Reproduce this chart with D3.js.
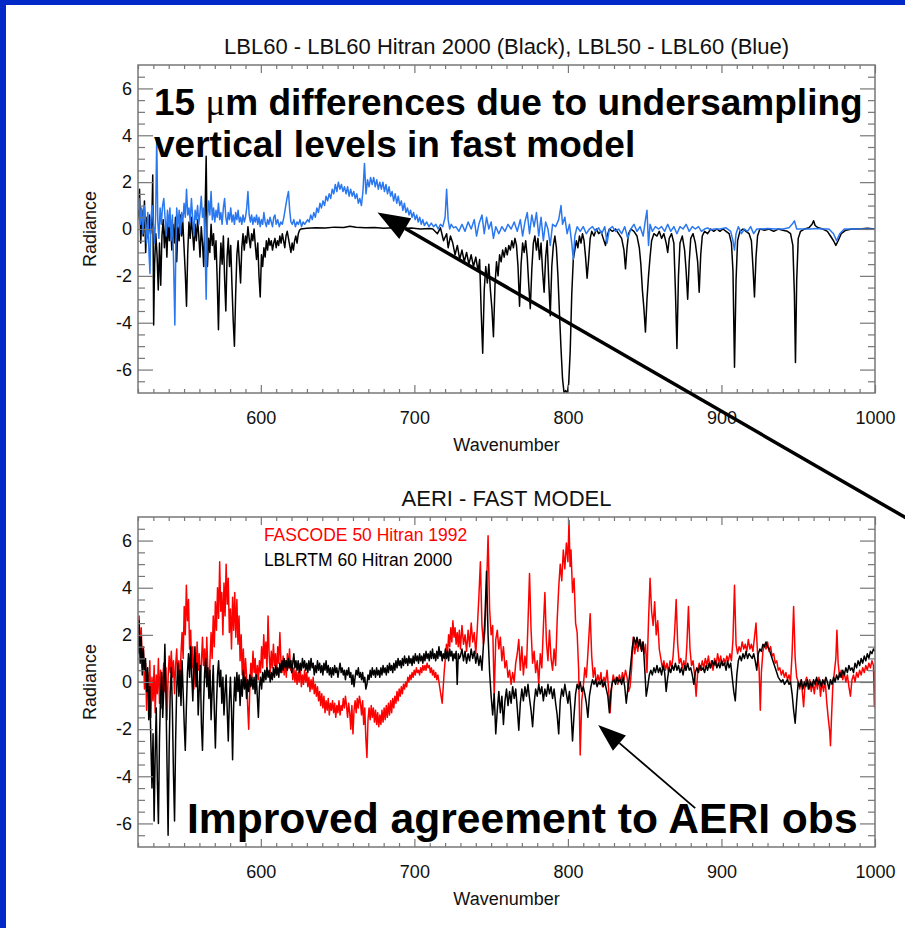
<!DOCTYPE html>
<html>
<head>
<meta charset="utf-8">
<script src="https://cdn.jsdelivr.net/npm/d3@7"></script>
<style>
  html, body { margin: 0; padding: 0; background: #fff; }
  svg { display: block; }
  text { font-family: "Liberation Sans", Arial, Helvetica, sans-serif; }
</style>
</head>
<body>
<svg id="chart" width="905" height="928"></svg>
<script>
// ---- axis settings ----
const wavenumberDomain = [520, 1000];
const radianceDomain = [-7, 7];
const wavenumberTicks = [600, 700, 800, 900, 1000];
const wavenumberMinorTicks = [520,530,540,550,560,570,580,590,610,620,630,640,650,660,670,680,690,710,720,730,740,750,760,770,780,790,810,820,830,840,850,860,870,880,890,910,920,930,940,950,960,970,980,990];
const radianceTicks = [-6, -4, -2, 0, 2, 4, 6];
const radianceMinorTicks = [-6.5,-5.5,-5,-4.5,-3.5,-3,-2.5,-1.5,-1,-0.5,0.5,1,1.5,2.5,3,3.5,4.5,5,5.5,6.5];

// ---- upper panel: LBL60 - LBL60 Hitran 2000 (black) ----
const lbl60Hitran2000 = [
[520,0.4],[521,1.7],[521.8,-0.6],[522.6,0.8],[523.4,-0.3],[524.2,1.2],[525,-1.0],[525.8,0.5],[526.6,-0.4],[527.4,0.6],[528.2,-0.2],[529,0.3],[529.6,2.3],[530.2,-4.1],[530.8,-1.5],[531.6,-0.2],[532.4,-1.1],[533.2,-2.6],[534,-0.6],[534.8,-2.4],[535.6,-0.3],[536.4,0.4],[537.2,-0.8],[538,0.2],[538.8,-1.2],[539.6,0.3],[540.4,-0.5],[541.2,0.4],[542,-0.9],[542.8,0.2],[543.6,-0.6],[544.4,0.5],[545.2,-1.4],[546,0.1],[546.8,-0.5],[547.6,0.6],[548.4,-0.3],[549.2,0.3],[550,-0.8],[550.8,-1.9],[551.6,-3.3],[552.4,-1.0],[553.2,0.3],[554,-0.4],[554.8,0.5],[555.6,-0.2],[556.4,-0.9],[557.2,0.2],[558,-0.5],[558.8,0.4],[559.6,-0.3],[560.4,-1.2],[561.2,0.1],[562,-0.6],[562.8,-1.6],[563.6,0.4],[564.4,3.1],[565.2,-1.6],[566,-0.4],[566.8,-1.0],[567.6,0.2],[568.4,-0.7],[569.2,-0.2],[570,-1.3],[570.8,-0.5],[571.6,-2.2],[572.4,-4.3],[573.2,-1.8],[574,-0.6],[574.8,-1.5],[575.6,-0.3],[576.4,-2.1],[577.2,-3.5],[578,-1.2],[578.8,-0.4],[579.6,-1.6],[580.4,-0.7],[581.2,-2.4],[582,-3.9],[582.8,-5.0],[583.6,-2.8],[584.4,-1.1],[585.2,-0.5],[586,-1.4],[586.8,-2.3],[587.6,-0.8],[588.4,-0.2],[589.2,-0.9],[590,-0.3],[590.8,-0.6],[591.6,0.1],[592.4,-0.4],[593.2,-0.8],[594,-0.2],[594.8,-0.5],[595.6,0.0],[596.4,-0.7],[597.2,-1.3],[598,-0.6],[598.8,-2.0],[599.6,-2.9],[600.4,-1.1],[601.2,-1.6],[602,-0.8],[602.8,-1.2],[603.6,-0.5],[604.4,-0.9],[605.2,-0.4],[606,-0.7],[606.8,-0.5],[607.6,-0.9],[608.4,-0.6],[609.2,-0.4],[610,-0.8],[610.8,-0.5],[611.6,-0.7],[612.4,-0.3],[613.2,-0.6],[614,-0.2],[614.8,-0.5],[615.6,-0.8],[616.4,-0.3],[617.2,-0.1],[618,-0.4],[618.8,-0.7],[619.6,-1.0],[620.4,-0.6],[621.2,-0.9],[622,-0.5],[622.8,-0.3],[623.6,-0.6],[624.4,-0.2],[625.2,-0.05],
[626,0.0],[630,0.03],[636,0.05],[642,0.04],[648,0.08],[654,0.06],[658,0.12],[662,0.07],[668,0.05],[674,0.06],[680,0.03],[686,0.05],[692,0.02],[698,0.04],[704,0.0],[710,0.02],
[712,0.0],[715,-0.2],[717,0.05],[719,-0.5],[721,-0.2],[722,-0.8],[723.5,-0.3],[725,-0.6],[726.5,-1.1],[728,-0.7],[729.5,-1.3],[731,-0.9],[732.5,-1.4],[734,-1.0],[735.5,-1.5],[737,-1.1],[738.5,-1.6],[740,-1.2],[741.5,-1.8],[742.5,-1.3],[743.5,-3.5],[744.5,-5.3],[745.5,-2.6],[746.5,-1.6],[747.5,-2.3],[748.5,-1.5],[749.5,-2.6],[750.5,-3.4],[751.5,-4.6],[752.5,-2.4],[753.5,-1.4],[754.5,-2.0],[755.5,-1.1],[756.5,-1.4],[757.5,-0.9],[758.5,-1.2],[759.5,-0.8],[760.5,-1.1],[761.5,-0.7],[762.5,-0.9],[763.5,-0.5],[764.5,-0.8],[765.5,-0.4],[766.5,-0.7],[767.5,-1.6],[768.5,-3.3],[769.5,-1.5],[770.5,-0.6],[771.5,-1.0],[772.5,-0.5],[773.5,-1.2],[774.5,-2.4],[775.5,-3.4],[776.5,-1.7],[777.5,-0.6],[778.5,-0.3],[779.5,-0.9],[780.5,-0.4],[781.5,-1.3],[782.5,-0.6],[783.5,-1.8],[784.5,-2.7],[785.5,-1.2],[786.5,-0.5],[787.5,-2.2],[788.5,-3.7],[789.5,-1.6],[790.5,-0.7],[791.5,-0.3],[792.5,-0.8],[793.5,-2.0],[794.5,-3.6],[795.5,-5.1],[796.5,-6.4],[797.5,-7.0],[798.5,-6.9],[799.5,-7.0],[800.5,-6.6],[801.5,-5.2],[802.5,-2.8],[803.5,-1.3],[804.5,-0.9],[805.5,-0.5],[806.5,-0.8],[807.5,-0.3],[808.5,-0.6],[809.5,-0.2],[810.5,-0.5],[811.5,-1.2],[812.5,-2.1],[813.5,-1.3],[814.5,-0.4],[815.5,-0.1],[817,-0.3],[818.5,0.0],[820,-0.2],[821.5,-0.1],[823,-0.4],[824.5,-0.7],[825.5,-0.3],[827,0.0],[829,-0.1],[831,0.0],[833,-0.2],[835,-0.4],[836.5,-0.9],[837.5,-1.7],[838.5,-0.8],[839.5,-0.2],[841,0.0],[843,-0.1],[845,-0.3],[846.5,-0.8],[847.5,-1.5],[848.5,-2.6],[849.5,-3.4],[850.5,-4.4],[851.5,-3.0],[852.5,-2.0],[853.5,-1.2],[854.5,-0.5],[856,-0.2],[858,-0.3],[859.5,-0.1],[861,-0.4],[862.5,-0.2],[864,-0.6],[865,-1.0],[866,-0.4],[867.5,-0.2],[869,-0.6],[870,-2.6],[871,-5.1],[872,-2.0],[873,-0.6],[874.5,-0.3],[876,-0.9],[877,-1.8],[878,-3.0],[879,-1.4],[880,-0.4],[881.5,-0.2],[883,-0.6],[884.5,-1.4],[885.5,-2.7],[886.5,-1.1],[887.5,-0.3],[889,-0.1],[891,-0.2],[893,0.0],[895,-0.1],[897,0.0],[899,-0.1],[901,0.0],[903,-0.1],[905,-0.2],[906.5,-0.6],[907.5,-1.8],[908.5,-5.9],[909.5,-2.2],[910.5,-0.5],[912,-0.1],[914,0.0],[916,-0.1],[918,-0.2],[919.5,-0.5],[920.5,-1.6],[921.5,-2.9],[922.5,-1.2],[923.5,-0.3],[925,0.0],[928,-0.05],[931,0.0],[934,-0.1],[937,0.0],[940,-0.05],[943,-0.1],[945,-0.2],[946.5,-0.7],[947.5,-2.8],[948.2,-5.7],[949,-2.2],[950,-0.4],[951.5,-0.1],[954,0.0],[957,0.05],[959,0.2],[960,0.35],[961,0.15],[963,0.05],[966,0.0],[969,-0.1],[971,-0.3],[973,-0.5],[974.5,-0.7],[976,-0.5],[978,-0.2],[981,-0.05],[985,0.0],[990,0.0],[995,0.03],[1000,0.0]
];

// ---- upper panel: LBL50 - LBL60 (blue) ----
const lbl50MinusLbl60 = [
[520,0.8],[520.8,1.3],[521.6,0.2],[522.4,0.9],[523.2,-0.2],[524,1.0],[524.8,0.3],[525.6,-0.6],[526.4,0.7],[527.2,-1.1],[527.8,-1.9],[528.4,0.4],[529.2,1.0],[530,0.2],[530.8,-0.6],[531.5,0.6],[532.2,3.9],[532.9,0.3],[533.6,-0.4],[534.4,0.9],[535.2,0.2],[536,1.0],[536.8,1.3],[537.6,0.5],[538.4,-0.3],[539.2,0.8],[540,0.1],[540.8,0.9],[541.6,-0.5],[542.4,0.6],[543.2,-1.5],[544,-4.1],[544.6,-1.0],[545.2,0.9],[546,0.1],[546.8,0.8],[547.6,-0.2],[548.4,0.7],[549.2,0.3],[550,1.1],[550.8,0.5],[551.6,1.7],[552.4,0.6],[553.2,0.9],[554,0.3],[554.8,1.3],[555.6,0.5],[556.4,-0.3],[557.2,0.8],[558,0.4],[558.8,1.0],[559.6,0.2],[560.4,0.7],[561.2,1.4],[562,0.5],[562.8,0.9],[563.6,-0.5],[564.4,-3.0],[565.2,0.4],[566,1.2],[566.8,0.6],[567.6,1.6],[568.4,0.4],[569.2,0.9],[570,0.3],[570.8,0.8],[571.6,0.5],[572.4,1.1],[573.2,0.4],[574,0.7],[574.8,0.2],[575.6,0.9],[576.4,1.3],[577.2,0.5],[578,0.2],[578.8,0.7],[579.6,0.4],[580.4,0.9],[581.2,0.3],[582,0.6],[582.8,0.2],[583.6,0.7],[584.4,0.4],[585.2,0.8],[586,0.3],[586.8,0.5],[587.6,0.2],[588.4,0.6],[589.2,0.3],[590,0.5],[590.8,0.9],[591.6,1.6],[592.4,0.6],[593.2,0.3],[594,0.6],[594.8,0.2],[595.6,0.5],[596.4,0.3],[597.2,0.6],[598,0.2],[598.8,0.5],[599.6,0.1],[600.4,0.4],[601.2,0.2],[602,0.7],[602.8,0.3],[603.6,0.1],[604.4,0.4],[605.2,0.2],[606,0.5],[606.8,0.3],[607.6,0.1],[608.4,0.5],[609.2,0.6],[610,0.2],[611,0.4],[612,0.1],[613,0.3],[614,0.2],[615,0.5],[616,0.9],[617,1.3],[618,1.6],[618.8,0.8],[619.6,0.3],[620.5,0.2],[621.5,0.4],[622.5,0.1],[623.5,0.3],[624.5,0.2],[625.5,0.4],[626.5,0.1],[627.5,0.3],[628.5,0.2],[629.5,0.3],[630.5,0.4],
[631.5,0.3],[632.5,0.6],[633.5,0.4],[634.5,0.7],[635.5,0.5],[636.5,0.9],[637.5,0.7],[638.5,1.1],[639.5,0.9],[640.5,1.2],[641.5,1.0],[642.5,1.4],[643.5,1.2],[644.5,1.5],[645.5,1.3],[646.5,1.7],[647.5,1.5],[648.5,1.9],[649.5,1.6],[650.5,2.0],[651.5,1.7],[652.5,1.9],[653.5,1.6],[654.5,1.8],[655.5,1.5],[656.5,1.8],[657.5,1.4],[658.5,1.7],[659.5,1.4],[660.5,1.6],[661.5,1.3],[662.5,1.5],[663.5,1.1],[664.5,1.3],[665.5,1.0],[666.5,1.6],[667.5,2.8],[668.5,1.5],[669.5,2.1],[670.5,1.8],[671.5,2.2],[672.5,1.9],[673.5,2.2],[674.5,1.8],[675.5,2.1],[676.5,1.7],[677.5,2.0],[678.5,1.7],[679.5,2.0],[680.5,1.6],[681.5,1.9],[682.5,1.5],[683.5,1.8],[684.5,1.4],[685.5,1.6],[686.5,1.2],[687.5,1.5],[688.5,1.1],[689.5,1.4],[690.5,1.0],[691.5,1.2],[692.5,0.8],[693.5,1.1],[694.5,0.7],[695.5,0.9],[696.5,0.6],[697.5,0.8],[698.5,0.5],[699.5,0.7],[700.5,0.4],[701.5,0.6],[702.5,0.3],[703.5,0.5],[704.5,0.2],[705.5,0.4],[706.5,0.15],[708,0.3],[709.5,0.1],[711,0.25],[712.5,0.1],[714,0.2],[715.5,0.0],[717,0.2],[718.5,0.1],[720,0.5],[721,1.7],[722,0.4],[723,0.0],[724,0.2],[725.5,0.05],
[727,0.1],[729,-0.1],[731,0.2],[733,-0.1],[735,0.3],[737,0.0],[739,0.4],[740.5,-0.3],[742,0.2],[744,0.6],[745.5,-0.2],[747,0.5],[748.5,0.0],[750,0.3],[751.5,-0.4],[753,0.1],[755,-0.2],[757,0.1],[759,-0.1],[761,0.2],[763,0.0],[765,0.3],[767,-0.1],[769,0.4],[770.5,-0.3],[772,0.3],[773.5,0.7],[775,-0.2],[776.5,0.6],[778,0.1],[779.5,0.7],[781,-0.3],[782.5,0.5],[784,-0.5],[785.5,0.3],[787,0.0],[788.5,-0.7],[790,0.2],[792,0.1],[794,0.4],[795.5,1.0],[796.5,0.2],[798,0.5],[799.5,-0.2],[801,0.2],[802.5,-0.6],[803.5,-1.3],[804.5,-0.3],[806,0.1],[808,-0.1],[810,0.1],[812,-0.2],[814,0.0],[816,0.1],[818,-0.1],[820,0.05],[822,-0.2],[824,0.1],[825.5,-0.6],[827,0.0],[829,0.1],[831,-0.1],[833,0.0],[835,-0.2],[837,0.1],[839,-0.4],[841,0.0],[843,0.2],[845,-0.1],[847,0.1],[849,-0.3],[850.5,0.4],[851.5,0.8],[852.5,-0.7],[853.5,0.2],[855,-0.1],[857,0.1],[859,0.0],[861,0.1],[863,-0.1],[865,0.2],[867,-0.1],[869,0.1],[871,-0.2],[873,0.1],[875,0.0],[877,0.2],[879,-0.1],[881,0.1],[883,0.0],[885,0.1],[887,-0.1],[889,0.0],[891,0.05],[893,-0.05],[895,0.0],[899,0.0],[903,0.05],[906,-0.1],[907.5,-0.5],[908.5,-0.9],[909.5,-0.2],[911,0.1],[913,-0.2],[915,0.0],[917,-0.1],[919,0.1],[921,-0.2],[923,0.0],[926,0.0],[930,0.02],[935,0.0],[940,0.0],[944,0.05],[946,0.2],[947.5,0.35],[949,0.0],[952,0.0],[958,0.0],[962,0.02],[966,0.0],[970,0.0],[973,-0.2],[975,-0.5],[977,-0.2],[980,0.0],[990,0.0],[1000,0.0]
];

// ---- lower panel: AERI minus FASCODE 50 Hitran 1992 (red) ----
const fascode50Hitran1992 = [
[520,2.2],[520.7,2.8],[521.4,1.2],[522.1,2.3],[522.8,0.6],[523.5,1.5],[524.2,-0.3],[524.9,0.8],[525.6,-1.2],[526.3,0.4],[527,-0.6],[527.7,0.9],[528.4,-1.5],[529.1,0.2],[529.8,-0.8],[530.5,0.7],[531.2,-1.3],[531.9,0.3],[532.6,-0.5],[533.3,1.0],[534,-0.9],[534.7,0.5],[535.4,-1.1],[536.1,0.1],[536.8,0.8],[537.5,-0.4],[538.2,0.6],[538.9,-1.6],[539.6,0.2],[540.3,1.1],[541,0.4],[541.7,1.3],[542.4,0.2],[543.1,0.9],[543.8,-0.5],[544.5,0.7],[545.2,1.4],[545.9,0.3],[546.6,0.9],[547.3,0.0],[548,1.2],[548.7,2.1],[549.4,1.0],[550.1,3.2],[550.8,2.0],[551.5,4.1],[552.2,2.6],[552.9,3.5],[553.6,1.4],[554.3,2.2],[555,0.6],[555.7,1.5],[556.4,-0.3],[557.1,1.0],[557.8,0.2],[558.5,1.7],[559.2,0.5],[559.9,1.2],[560.6,-0.4],[561.3,0.8],[562,1.9],[562.7,0.7],[563.4,1.4],[564.1,0.2],[564.8,1.9],[565.5,0.4],[566.2,-0.6],[566.9,0.9],[567.6,2.1],[568.3,1.0],[569,2.8],[569.7,1.5],[570.4,3.4],[571.1,2.2],[571.8,4.0],[572.5,2.7],[573.2,5.1],[573.9,3.0],[574.6,3.8],[575.3,2.0],[576,4.2],[576.7,2.8],[577.4,5.0],[578.1,3.3],[578.8,4.4],[579.5,2.1],[580.2,3.1],[580.9,1.4],[581.6,3.6],[582.3,2.2],[583,3.8],[583.7,1.9],[584.4,3.5],[585.1,1.6],[585.8,2.8],[586.5,0.9],[587.2,2.0],[587.9,0.3],[588.6,1.4],[589.3,-0.2],[590,1.0],[590.7,0.3],[591.4,-1.0],[592.1,-2.0],[592.8,-0.3],[593.5,0.8],[594.2,0.2],[594.9,1.3],[595.6,0.4],[596.3,1.0],[597,-0.1],[597.7,0.7],[598.4,0.1],[599.1,0.9],
[599.8,0.4],[600.5,1.5],[601.2,0.6],[601.9,2.0],[602.6,1.0],[603.3,1.7],[604,0.5],[604.7,2.8],[605.4,1.2],[606.1,0.4],[606.8,1.3],[607.5,0.6],[608.2,1.6],[608.9,0.7],[609.6,1.2],[610.3,0.3],[611,1.5],[611.7,0.8],[612.4,2.1],[613.1,0.9],[613.8,0.4],[614.5,1.1],[615.2,0.3],[615.9,0.9],[616.6,0.2],[617.3,1.2],[618,0.6],[618.7,1.4],[619.4,0.5],[620.1,0.9],[620.8,0.1],[621.5,0.6],[622.2,0.0],[622.9,0.5],[623.6,-0.1],[624.3,0.4],[625,0.0],[625.7,0.6],[626.4,-0.2],[627.1,0.3],[627.8,-0.1],[628.5,0.5],[629.2,0.0],[629.9,0.4],[630.6,-0.2],[631.3,0.2],[632,-0.4],[632.7,0.1],[633.4,-0.3],[634.1,0.2],[634.8,-0.5],[635.5,-0.1],[636.2,-0.6],[636.9,-0.2],[637.6,-0.8],[638.3,-0.4],[639,-1.0],[639.7,-0.5],[640.4,-1.1],[641.1,-0.6],[641.8,-1.3],[642.5,-0.8],[643.2,-1.2],[643.9,-0.7],[644.6,-1.4],[645.3,-0.9],[646,-1.2],[646.7,-0.8],[647.4,-1.3],[648.1,-0.9],[648.8,-1.5],[649.5,-1.0],[650.2,-1.3],[650.9,-0.8],[651.6,-1.4],[652.3,-1.0],[653,-1.2],[653.7,-0.7],[654.4,-1.1],[655.1,-0.6],[655.8,-1.0],[656.5,-1.5],[657.2,-0.9],[657.9,-1.3],[658.6,-2.0],[659.3,-1.0],[660,-2.2],[660.7,-1.2],[661.4,-0.8],[662.1,-1.3],[662.8,-0.7],[663.5,-1.1],[664.2,-0.6],[664.9,-0.9],[665.6,-1.4],[666.3,-0.8],[667,-1.8],[667.7,-1.1],[668.4,-2.4],[669.1,-3.2],[669.8,-1.6],[670.5,-1.1],[671.2,-1.6],[671.9,-1.0],[672.6,-1.5],[673.3,-1.1],[674,-1.7],[674.7,-1.2],[675.4,-1.8],[676.1,-1.3],[676.8,-1.9],[677.5,-1.4],[678.2,-1.8],[678.9,-1.2],[679.6,-1.7],[680.3,-1.1],[681,-1.6],[681.7,-1.0],[682.4,-1.5],[683.1,-0.9],[683.8,-1.4],[684.5,-0.8],[685.2,-1.3],[685.9,-0.7],[686.6,-1.1],[687.3,-0.6],[688,-0.9],[688.7,-0.4],[689.4,-0.8],[690.1,-0.3],[690.8,-0.6],[691.5,-0.2],[692.2,-0.5],[692.9,-0.1],[693.6,-0.3],[694.3,0.0],[695,-0.2],[695.7,0.2],[696.4,0.0],[697.1,0.3],[697.8,0.1],[698.5,0.4],[699.2,0.2],[699.9,0.5],[700.6,0.3],[701.3,0.6],[702,0.4],[702.7,0.5],[703.4,0.3],[704.1,0.6],[704.8,0.4],[705.5,0.7],[706.2,0.5],[706.9,0.7],[707.6,0.5],[708.3,0.8],[709,0.6],[709.7,0.7],[710.4,0.4],[711.1,0.6],[711.8,0.3],[712.5,0.5],[713.2,0.2],[713.9,0.4],[714.6,0.1],[715.3,0.3],[716,0.0],[716.7,-0.3],[717.4,-0.6],[718.1,-0.9],[718.8,-0.2],[719.5,0.5],[720.2,1.0],[720.9,1.6],[721.6,1.2],[722.3,2.0],[723,1.5],[723.7,2.3],[724.4,1.7],[725.1,2.6],[725.8,1.9],[726.5,2.3],[727.2,1.6],[727.9,2.1],[728.6,1.5],[729.3,2.2],
[730,1.4],[731,2.4],[732,1.6],[733,2.0],[734,1.3],[735,2.2],[736,1.5],[737,2.5],[738,1.7],[739,2.1],[740,1.2],[741,2.3],[742,3.6],[743,5.1],[744,2.4],[745,1.6],[746,2.2],[747,4.0],[748,6.2],[749,3.1],[750,2.0],[751,2.4],[752,-0.6],[753,1.8],[754,2.2],[755,1.4],[756,1.9],[757,0.9],[758,1.5],[759,0.6],[760,0.9],[761,0.2],[762,0.5],[763,-0.1],[764,0.4],[765,0.0],[766,0.8],[767,1.2],[768,1.8],[769,0.5],[770,1.5],[771,0.3],[772,1.1],[773,0.6],[774,2.5],[775,4.6],[776,2.2],[777,0.8],[778,1.3],[779,0.4],[780,0.9],[781,-0.1],[782,1.2],[783,0.6],[784,2.3],[785,3.8],[786,1.7],[787,0.9],[788,2.2],[789,1.0],[790,0.5],[791,1.4],[792,0.7],[793,2.6],[794,4.0],[795,5.0],[796,4.3],[797,5.6],[798,4.8],[799,5.9],[800,5.1],[800.7,6.85],[801.4,4.9],[802,5.6],[803,3.8],[804,4.4],[805,2.5],[806,2.1],[807,0.5],[808,-3.1],[809,-0.8],[810,-0.2],[811,0.6],[812,0.2],[813,1.2],[814.5,2.9],[815.5,1.1],[816.5,0.2],[817.5,0.6],[818.5,-0.1],[819.5,0.3],[820.5,0.0],[821.5,0.4],[822.5,-0.2],[823.5,0.2],[824.5,0.0],[825.5,0.5],[826.5,-0.3],[827.5,-1.3],[828.5,-0.2],[829.5,0.3],[830.5,0.0],[831.5,0.2],[832.5,-0.1],[833.5,0.3],[834.5,0.0],[835.5,0.4],[836.5,0.1],[837.5,0.5],[838.5,0.2],[839.5,-0.4],[840.5,-0.2],[841.5,0.6],[842.5,1.9],[843.5,1.2],[844.5,1.7],[845.5,1.3],[846.5,1.8],[847.5,1.4],[848.5,1.7],[849.5,1.2],[850.5,1.6],[851.5,0.4],[852.5,2.6],[853.5,4.4],[854.5,3.0],[855.5,2.4],[856.5,3.4],[857.5,2.0],[858.5,2.6],[859.5,1.4],[860.5,1.0],[861.5,0.6],[862.5,0.9],[863.5,0.5],[864.5,0.8],[865.5,0.4],[866.5,0.9],[867.5,0.6],[868.5,1.1],[869.5,2.1],[870.5,3.5],[871.5,1.6],[872.5,0.8],[873.5,1.0],[874.5,0.6],[875.5,0.9],[876.5,0.5],[877.5,1.6],[878.5,3.2],[879.5,1.4],[880.5,0.7],[881.5,0.9],[882.5,0.3],[883.5,-0.6],[884.5,0.4],[885.5,0.8],[886.5,0.5],[887.5,0.9],[888.5,0.6],[889.5,1.0],[890.5,0.7],[891.5,1.1],[892.5,0.6],[893.5,0.9],[894.5,0.5],[895.5,1.0],[896.5,0.7],[897.5,1.2],[898.5,0.8],[899.5,1.1],[900.5,0.7],[901.5,1.0],[902.5,0.8],[903.5,1.1],[904.5,0.9],[905.5,1.2],[906.5,0.9],[907.5,1.8],[908.5,4.1],[909.5,1.6],[910.5,1.2],[911.5,1.5],[912.5,1.3],[913.5,1.7],[914.5,1.4],[915.5,1.6],[916.5,1.3],[917.5,1.8],[918.5,1.4],[919.5,1.6],[920.5,1.3],[921.5,1.9],[922.5,2.5],[923.5,1.2],[924.5,0.6],[925.3,-1.2],[926,0.4],[927,1.3],[928,1.6],[929,1.4],[930,1.7],[931,1.3],[932,1.5],[933,1.1],[934,1.2],[935,0.8],[936,0.9],[937,0.5],[938,0.6],[939,0.3],[940,0.5],[941,0.2],[942,0.4],[943,0.1],[944,0.3],[945,0.0],[946,1.2],[947,3.2],[948,1.0],[949,0.2],[950,0.0],[951,-0.3],[952,0.1],[953.5,-1.05],[954.5,0.0],[955.5,0.2],[956.5,-0.3],[957.5,0.1],[958.5,-0.4],[959.5,0.0],[960.5,-0.5],[961.5,0.1],[962.5,-0.3],[963.5,0.2],[964.5,-0.6],[965.5,0.0],[966.5,-0.4],[967.5,0.1],[968.5,-0.8],[969.5,-1.5],[970.5,-2.1],[971,-2.7],[971.8,-1.3],[972.5,-0.2],[973.5,0.4],[974.5,1.0],[975.2,2.2],[976,0.8],[977,0.2],[978,0.5],[979,0.1],[980,0.4],[981,0.0],[982,0.3],[983,-0.2],[984,-0.6],[985,0.1],[986,0.3],[987,0.0],[988,0.4],[989,0.2],[990,0.5],[991,0.3],[992,0.6],[993,0.4],[994,0.7],[995,0.5],[996,0.8],[997,0.6],[998,0.9],[999,0.7],[999.6,-1.05],[1000,0.5]
];

// ---- lower panel: AERI minus LBLRTM 60 Hitran 2000 (black) ----
const lblrtm60Hitran2000 = [
[520,1.2],[520.7,2.6],[521.4,0.8],[522.1,1.9],[522.8,0.3],[523.5,1.4],[524.2,0.5],[524.9,1.0],[525.6,-0.4],[526.3,0.6],[527,-1.6],[527.7,-0.2],[528.4,-2.6],[529.1,-4.5],[529.8,-2.2],[530.5,-5.9],[531.2,-3.0],[531.9,-1.1],[532.6,-4.2],[533.3,-6.0],[534,-2.4],[534.7,-0.6],[535.4,0.4],[536.1,-1.5],[536.8,-0.3],[537.5,1.6],[538.2,-0.5],[538.9,-3.5],[539.6,-6.5],[540.3,-2.8],[541,-0.4],[541.7,0.6],[542.4,-1.2],[543.1,-3.9],[543.8,-5.9],[544.5,-2.5],[545.2,-0.3],[545.9,0.8],[546.6,-0.6],[547.3,0.5],[548,-1.0],[548.7,0.9],[549.4,-0.4],[550.1,-1.8],[550.8,-2.9],[551.5,-1.1],[552.2,0.4],[552.9,1.2],[553.6,0.2],[554.3,1.5],[555,0.3],[555.7,-0.8],[556.4,0.6],[557.1,1.5],[557.8,-0.2],[558.5,0.8],[559.2,-1.4],[559.9,-0.3],[560.6,0.7],[561.3,-1.8],[562,-2.9],[562.7,-0.9],[563.4,0.4],[564.1,1.0],[564.8,-0.2],[565.5,0.6],[566.2,-0.7],[566.9,0.5],[567.6,-1.6],[568.3,-0.4],[569,0.7],[569.7,-1.2],[570.4,-2.8],[571.1,-1.0],[571.8,0.3],[572.5,0.9],[573.2,-0.2],[573.9,0.5],[574.6,-0.9],[575.3,0.2],[576,-1.4],[576.7,-0.4],[577.4,0.3],[578.1,-1.2],[578.8,-2.5],[579.5,-0.8],[580.2,0.2],[580.9,-1.2],[581.6,-3.3],[582.3,-1.0],[583,0.2],[583.7,-0.8],[584.4,0.4],[585.1,-0.4],[585.8,0.3],[586.5,-1.0],[587.2,0.1],[587.9,-0.6],[588.6,0.5],[589.3,-0.3],[590,0.2],[590.7,-0.7],[591.4,0.1],[592.1,-0.4],[592.8,0.3],[593.5,-0.2],[594.2,0.2],[594.9,-0.3],[595.6,0.2],[596.3,-0.5],[597,0.3],[597.7,-0.6],[598.4,-1.5],[599.1,-0.2],
[599.8,0.2],[600.5,-0.3],[601.2,0.4],[601.9,0.0],[602.6,0.5],[603.3,0.1],[604,0.6],[604.7,0.2],[605.4,0.5],[606.1,0.0],[606.8,0.4],[607.5,0.1],[608.2,0.6],[608.9,0.2],[609.6,0.7],[610.3,0.3],[611,0.6],[611.7,0.2],[612.4,0.8],[613.1,0.4],[613.8,0.9],[614.5,0.5],[615.2,1.0],[615.9,0.6],[616.6,0.9],[617.3,0.5],[618,1.0],[618.7,0.6],[619.4,0.9],[620.1,0.4],[620.8,0.8],[621.5,1.2],[622.2,0.6],[622.9,0.9],[623.6,0.5],[624.3,0.9],[625,0.4],[625.7,0.8],[626.4,0.5],[627.1,1.0],[627.8,0.6],[628.5,0.9],[629.2,0.5],[629.9,0.8],[630.6,0.4],[631.3,0.9],[632,0.5],[632.7,1.0],[633.4,0.6],[634.1,0.8],[634.8,0.3],[635.5,0.7],[636.2,0.4],[636.9,0.9],[637.6,0.5],[638.3,0.8],[639,0.4],[639.7,0.7],[640.4,0.3],[641.1,0.8],[641.8,0.5],[642.5,0.9],[643.2,0.4],[643.9,0.7],[644.6,0.3],[645.3,0.6],[646,0.2],[646.7,0.6],[647.4,0.3],[648.1,0.7],[648.8,0.4],[649.5,0.6],[650.2,0.2],[650.9,0.5],[651.6,0.8],[652.3,0.4],[653,0.6],[653.7,0.3],[654.4,0.5],[655.1,0.1],[655.8,0.5],[656.5,0.3],[657.2,0.6],[657.9,0.2],[658.6,0.4],[659.3,-0.1],[660,0.3],[660.7,-0.2],[661.4,0.2],[662.1,0.5],[662.8,0.3],[663.5,0.6],[664.2,0.2],[664.9,0.4],[665.6,0.1],[666.3,0.4],[667,0.0],[667.7,0.2],[668.4,-0.3],[669.1,-0.1],[669.8,0.3],[670.5,0.1],[671.2,0.5],[671.9,0.2],[672.6,0.6],[673.3,0.3],[674,0.5],[674.7,0.2],[675.4,0.6],[676.1,0.3],[676.8,0.5],[677.5,0.2],[678.2,0.6],[678.9,0.3],[679.6,0.7],[680.3,0.4],[681,0.6],[681.7,0.3],[682.4,0.7],[683.1,0.4],[683.8,0.8],[684.5,0.5],[685.2,0.7],[685.9,0.4],[686.6,0.8],[687.3,0.5],[688,0.9],[688.7,0.6],[689.4,1.0],[690.1,0.7],[690.8,0.9],[691.5,0.6],[692.2,1.0],[692.9,0.7],[693.6,1.1],[694.3,0.8],[695,1.0],[695.7,0.7],[696.4,1.1],[697.1,0.8],[697.8,1.0],[698.5,0.7],[699.2,1.1],[699.9,0.8],[700.6,1.2],[701.3,0.9],[702,1.1],[702.7,0.8],[703.4,1.2],[704.1,0.9],[704.8,1.1],[705.5,0.8],[706.2,1.2],[706.9,0.9],[707.6,1.3],[708.3,1.0],[709,1.2],[709.7,0.9],[710.4,1.3],[711.1,1.0],[711.8,1.4],[712.5,1.0],[713.2,1.2],[713.9,0.9],[714.6,1.3],[715.3,1.0],[716,1.5],[716.7,1.1],[717.4,1.3],[718.1,0.9],[718.8,1.2],[719.5,1.0],[720.2,1.4],[720.9,1.0],[721.6,1.3],[722.3,0.9],[723,1.4],[723.7,1.1],[724.4,1.3],[725.1,0.9],[725.8,1.2],[726.5,1.0],[727.2,1.3],[727.9,-0.1],[728.6,1.2],[729.3,1.0],
[730,1.1],[731,1.4],[732,0.9],[733,1.3],[734,0.8],[735,1.2],[736,0.9],[737,1.4],[738,1.0],[739,1.3],[740,0.8],[741,1.2],[742,0.7],[743,1.1],[744,0.5],[745,1.6],[746,2.8],[747,4.7],[748,2.0],[749,0.4],[750,-0.6],[751,-1.4],[752,-0.5],[753,-2.2],[754,-1.2],[755,-0.4],[756,-1.3],[757,-0.6],[758,-1.8],[759,-0.8],[760,-0.3],[761,-1.0],[762,-0.4],[763,-0.9],[764,-0.2],[765,-0.7],[766,-0.3],[767,-1.1],[768,-2.05],[769,-0.9],[770,-0.3],[771,-0.8],[772,-0.2],[773,-0.6],[774,-0.1],[775,-0.7],[776,-1.2],[777,-1.9],[778,-0.9],[779,-0.3],[780,-0.6],[781,-0.1],[782,-0.5],[783,-0.2],[784,-0.8],[785,-0.3],[786,-0.6],[787,-0.1],[788,-0.5],[789,-0.2],[790,-0.7],[791,-0.3],[792,-0.9],[793,-1.4],[794,-2.2],[795,-0.8],[796,-0.3],[797,-0.6],[798,-0.1],[799,-0.5],[800,-0.9],[801,-0.4],[802,-1.2],[803,-2.5],[804,-1.4],[805,-0.5],[806,-0.1],[807,-0.3],[808,0.0],[809,-0.4],[810,-0.2],[811,-0.5],[812,-0.9],[813,-1.5],[814,-0.6],[815,-0.2],[816,0.1],[817,-0.1],[818,0.1],[819,-0.2],[820,0.0],[821,-0.1],[822,0.1],[823,-0.2],[824,0.0],[825,-0.3],[826,-0.6],[827,-1.3],[828,-0.4],[829,0.0],[830,0.1],[831,-0.1],[832,0.2],[833,0.0],[834,0.1],[835,-0.1],[836,0.2],[837,-0.2],[838,-0.9],[839,-0.3],[840,0.2],[841,0.8],[842,1.5],[843,1.9],[844,1.6],[845,1.9],[846,1.5],[847,1.8],[848,1.3],[849,1.7],[850,0.6],[851,-0.6],[852,-0.2],[853,0.3],[854,0.5],[855,0.3],[856,0.6],[857,0.4],[858,0.7],[859,0.4],[860,0.6],[861,0.3],[862,0.7],[863,0.4],[864,-0.4],[865,0.2],[866,0.6],[867,0.4],[868,0.7],[869,0.5],[870,0.8],[871,0.5],[872,0.7],[873,0.4],[874,0.6],[875,0.3],[876,0.7],[877,0.5],[878,0.8],[879,0.5],[880,0.6],[881,0.3],[882,-0.1],[883,0.4],[884,0.6],[885,0.4],[886,0.7],[887,0.5],[888,0.6],[889,0.4],[890,0.7],[891,0.5],[892,0.8],[893,0.6],[894,0.9],[895,0.7],[896,0.9],[897,0.6],[898,0.8],[899,0.6],[900,0.9],[901,0.7],[902,0.8],[903,0.5],[904,0.9],[905,0.6],[906,0.8],[907,0.2],[908,-0.4],[909,-0.8],[910,0.3],[911,0.9],[912,1.1],[913,0.9],[914,1.2],[915,1.0],[916,1.3],[917,1.0],[918,1.2],[919,1.1],[920,1.0],[921,1.2],[922,0.9],[923,0.5],[924,1.2],[925,1.4],[926,1.3],[927,1.6],[928,1.5],[929,1.7],[930,1.5],[931,1.4],[932,1.2],[933,1.0],[934,0.8],[935,0.6],[936,0.4],[937,0.2],[938,0.1],[939,0.0],[940,0.1],[941,-0.1],[942,0.0],[943,0.1],[944,-0.1],[945,0.0],[946,-0.5],[947,-1.2],[948,-1.75],[949,-0.8],[950,0.0],[951,-0.2],[952,0.1],[953,-0.3],[954,0.0],[955,-0.2],[956,0.1],[957,-0.3],[958,0.0],[959,-0.2],[960,0.1],[961,-0.1],[962,0.2],[963,-0.1],[964,0.1],[965,-0.2],[966,0.1],[967,-0.1],[968,0.2],[969,0.0],[970,-0.3],[971,0.1],[972,-0.1],[973,0.2],[974,0.0],[975,0.3],[976,0.1],[977,0.4],[978,0.2],[979,0.5],[980,0.3],[981,0.6],[982,0.4],[983,0.7],[984,0.5],[985,0.6],[986,0.4],[987,0.8],[988,0.6],[989,0.9],[990,0.7],[991,1.0],[992,0.8],[993,1.1],[994,0.9],[995,1.2],[996,1.0],[997,1.3],[998,1.2],[999,1.4],[1000,1.3]
];

// ---- text ----
const upperTitle = "LBL60 - LBL60 Hitran 2000 (Black), LBL50 - LBL60 (Blue)";
const lowerTitle = "AERI - FAST MODEL";
const xAxisLabel = "Wavenumber";
const yAxisLabel = "Radiance";
const lowerLegend = [
  { label: "FASCODE 50 Hitran 1992", color: "#ff0000" },
  { label: "LBLRTM 60 Hitran 2000", color: "#000000" }
];

// ---- drawing ----
const svg = d3.select("#chart");
svg.append("rect").attr("width", 905).attr("height", 928).attr("fill", "#ffffff");
// slide frame strips (left and top)
svg.append("rect").attr("x", 0).attr("y", 0).attr("width", 905).attr("height", 5).attr("fill", "#0029c8");
svg.append("rect").attr("x", 0).attr("y", 0).attr("width", 6).attr("height", 928).attr("fill", "#0029c8");

const plotLeft = 138, plotRight = 875;
const axisColor = "#777";

function drawPanel(cfg) {
  const x = d3.scaleLinear().domain(wavenumberDomain).range([plotLeft, plotRight]);
  const y = d3.scaleLinear().domain(radianceDomain).range([cfg.bottom, cfg.top]);
  const g = svg.append("g");
  const clipId = "clip-" + cfg.id;
  g.append("clipPath").attr("id", clipId)
    .append("rect").attr("x", plotLeft).attr("y", cfg.top)
    .attr("width", plotRight - plotLeft).attr("height", cfg.bottom - cfg.top);

  const data = g.append("g").attr("clip-path", `url(#${clipId})`);
  if (cfg.zeroLine) {
    data.append("line").attr("x1", plotLeft).attr("x2", plotRight)
      .attr("y1", y(0)).attr("y2", y(0)).attr("stroke", "#444").attr("stroke-width", 1.2);
  }
  const line = d3.line().x(d => x(d[0])).y(d => y(d[1]));
  cfg.series.forEach(s => {
    data.append("path").datum(s.values).attr("d", line)
      .attr("fill", "none").attr("stroke", s.color).attr("stroke-width", 1.5)
      .attr("stroke-linejoin", "round");
  });

  // axes on all four sides, ticks pointing inward
  const addAxis = (axis, transform, labels) => {
    const a = g.append("g").attr("transform", transform).call(axis);
    a.select(".domain").remove();
    a.selectAll(".tick line").attr("stroke", axisColor).attr("stroke-width", 1.2);
    a.selectAll(".tick text").attr("fill", "#111").style("font-size", "18px")
      .style("font-family", "'Liberation Sans', Arial, sans-serif");
    if (!labels) a.selectAll(".tick text").remove();
    return a;
  };
  const fmt = d => String(d);
  addAxis(d3.axisBottom(x).tickValues(wavenumberTicks).tickSize(-8).tickPadding(18).tickFormat(fmt), `translate(0,${cfg.bottom})`, true);
  addAxis(d3.axisBottom(x).tickValues(wavenumberMinorTicks).tickSize(-4).tickFormat(""), `translate(0,${cfg.bottom})`, false);
  addAxis(d3.axisTop(x).tickValues(wavenumberTicks).tickSize(-8).tickFormat(""), `translate(0,${cfg.top})`, false);
  addAxis(d3.axisTop(x).tickValues(wavenumberMinorTicks).tickSize(-4).tickFormat(""), `translate(0,${cfg.top})`, false);
  addAxis(d3.axisLeft(y).tickValues(radianceTicks).tickSize(-15).tickPadding(6).tickFormat(d => d < 0 ? "-" + Math.abs(d) : String(d)), `translate(${plotLeft},0)`, true);
  addAxis(d3.axisLeft(y).tickValues(radianceMinorTicks).tickSize(-7).tickFormat(""), `translate(${plotLeft},0)`, false);
  addAxis(d3.axisRight(y).tickValues(radianceTicks).tickSize(-15).tickFormat(""), `translate(${plotRight},0)`, false);
  addAxis(d3.axisRight(y).tickValues(radianceMinorTicks).tickSize(-7).tickFormat(""), `translate(${plotRight},0)`, false);

  g.append("rect").attr("x", plotLeft).attr("y", cfg.top)
    .attr("width", plotRight - plotLeft).attr("height", cfg.bottom - cfg.top)
    .attr("fill", "none").attr("stroke", axisColor).attr("stroke-width", 1.5);

  const cx = (plotLeft + plotRight) / 2;
  g.append("text").attr("x", cx).attr("y", cfg.top - 11).attr("text-anchor", "middle")
    .style("font-size", "22px").attr("fill", "#111").text(cfg.title);
  g.append("text").attr("x", cx).attr("y", cfg.bottom + 58).attr("text-anchor", "middle")
    .style("font-size", "18px").attr("fill", "#111").text(xAxisLabel);
  g.append("text").attr("transform", `translate(96,${y(0)}) rotate(-90)`).attr("text-anchor", "middle")
    .style("font-size", "18px").attr("fill", "#111").text(yAxisLabel);

  return { x, y, g };
}

const upper = drawPanel({
  id: "upper", top: 65, bottom: 393, title: upperTitle, zeroLine: false,
  series: [
    { values: lbl60Hitran2000, color: "#000000" },
    { values: lbl50MinusLbl60, color: "#2a78f0" }
  ]
});

const lower = drawPanel({
  id: "lower", top: 517, bottom: 847, title: lowerTitle, zeroLine: true,
  series: [
    { values: fascode50Hitran1992, color: "#ff0000" },
    { values: lblrtm60Hitran2000, color: "#000000" }
  ]
});

// legend of the lower panel
lowerLegend.forEach((item, i) => {
  lower.g.append("text").attr("x", lower.x(602)).attr("y", lower.y(6.0) + i * 25)
    .style("font-size", "17.5px").attr("fill", item.color).text(item.label);
});

// annotations
const note = svg.append("g").attr("fill", "#000").style("font-weight", "bold");
const l1 = note.append("text").attr("x", 154).attr("y", 115).style("font-size", "37px");
l1.append("tspan").text("15 ");
l1.append("tspan").style("font-family", "'Liberation Serif', 'DejaVu Serif', serif").style("font-weight", "normal").text("\u03bc");
l1.append("tspan").text("m differences due to undersampling");
note.append("text").attr("x", 154).attr("y", 157).style("font-size", "37px").text("vertical levels in fast model");
note.append("text").attr("x", 187).attr("y", 833).style("font-size", "42.6px").text("Improved agreement to AERI obs");

function arrow(from, to, width, headLen, headHalf) {
  const dx = from[0] - to[0], dy = from[1] - to[1];
  const len = Math.hypot(dx, dy);
  const ux = dx / len, uy = dy / len;
  const bx = to[0] + ux * headLen, by = to[1] + uy * headLen;
  svg.append("line").attr("x1", from[0]).attr("y1", from[1]).attr("x2", bx).attr("y2", by)
    .attr("stroke", "#000").attr("stroke-width", width);
  svg.append("path")
    .attr("d", `M${to[0]},${to[1]}L${bx - uy * headHalf},${by + ux * headHalf}L${bx + uy * headHalf},${by - ux * headHalf}Z`)
    .attr("fill", "#000");
}
// arrow to the 15 micron hump of the blue curve
arrow([upper.x(1026), upper.y(-12.55)], [upper.x(676), upper.y(0.7)], 3.5, 32, 12);
// arrow to the 800 cm-1 region of the lower panel
arrow([lower.x(882.9), lower.y(-5.35)], [lower.x(819.7), lower.y(-1.82)], 1.8, 28, 10);
</script>
</body>
</html>
